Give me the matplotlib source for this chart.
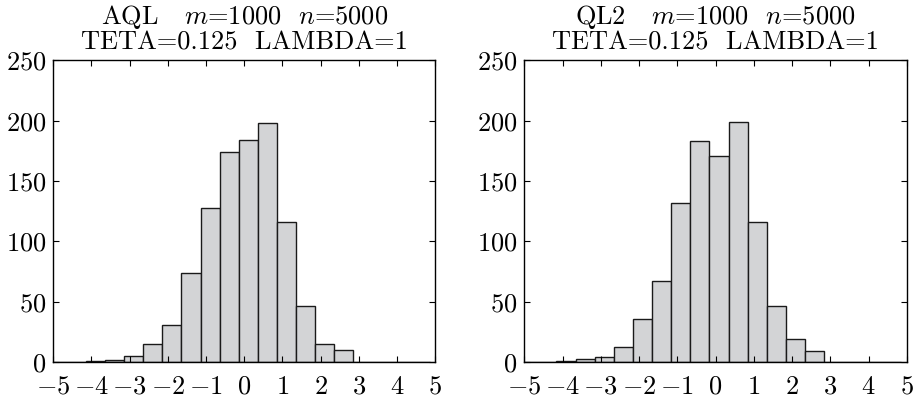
import numpy as np
import matplotlib
matplotlib.use("Agg")
import matplotlib.pyplot as plt

plt.rcParams['font.family'] = 'serif'
plt.rcParams['font.serif'] = ['cmr10']
plt.rcParams['mathtext.fontset'] = 'cm'
plt.rcParams['axes.formatter.use_mathtext'] = True

# bin edges start (20 bins of width 0.5)
aql_start = -5.14
ql2_start = -5.16
bin_width = 0.5

aql_counts = [0, 0, 1, 2, 5, 15, 31, 74, 128, 174, 184, 198, 116, 47, 15, 10, 0, 0, 0, 0]
ql2_counts = [0, 0, 1, 3, 4, 13, 36, 67, 132, 183, 171, 199, 116, 47, 19, 9, 0, 0, 0, 0]

titles = [r"AQL   $m$=1000  $n$=5000" + "\n" + "TETA=0.125  LAMBDA=1",
          r"QL2   $m$=1000  $n$=5000" + "\n" + "TETA=0.125  LAMBDA=1"]

xticks = [-5, -4, -3, -2, -1, 0, 1, 2, 3, 4, 5]
yticks = [0, 50, 100, 150, 200, 250]

fig = plt.figure(figsize=(9.16, 3.99), dpi=100)
ax1 = fig.add_axes([0.058, 0.092, 0.417, 0.757])
ax2 = fig.add_axes([0.5724, 0.092, 0.4175, 0.757])

for ax, start, counts, title in [(ax1, aql_start, aql_counts, titles[0]),
                                 (ax2, ql2_start, ql2_counts, titles[1])]:
    centers = start + bin_width / 2 + bin_width * np.arange(len(counts))
    ax.bar(centers, counts, width=bin_width, color='#d3d4d6',
           edgecolor='#1a1a1a', linewidth=1.0)
    ax.set_xlim(-5, 5)
    ax.set_ylim(0, 250)
    ax.set_xticks(xticks)
    ax.set_yticks(yticks)
    ax.tick_params(direction='in', top=True, right=True, length=4,
                   labelsize=19, width=0.8)
    ax.tick_params(axis='y', pad=5)
    ax.tick_params(axis='x', pad=9)
    ax.set_title(title, fontsize=19, pad=8, linespacing=0.95)
    for s in ax.spines.values():
        s.set_linewidth(1.0)

fig.savefig("out.png", dpi=100)
